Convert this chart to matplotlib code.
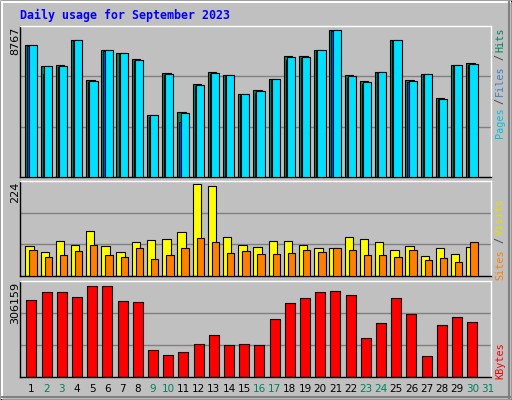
import matplotlib
matplotlib.use("Agg")
import matplotlib.pyplot as plt
from matplotlib.patches import Rectangle

days = list(range(1, 32))
hits_px = [133,196,193,118,238,148,157,175,343,217,334,250,214,223,280,268,235,166,166,148,88,223,241,214,118,238,220,292,193,187]
files_px = [138,220,200,121,244,152,160,183,349,225,364,256,220,226,283,278,240,178,172,153,92,232,250,217,121,244,225,297,196,193]
pages_px = [133,196,196,118,241,148,157,178,343,220,337,253,217,223,280,271,235,169,169,148,88,226,244,214,118,241,220,295,193,190]
hits = [(530 - y) / (530 - 88) * 8767 for y in hits_px]
files = [(530 - y) / (530 - 88) * 8767 for y in files_px]
pages = [(530 - y) / (530 - 88) * 8767 for y in pages_px]
visits_px = [214,232,199,211,169,214,232,202,196,193,172,28,34,187,211,217,199,199,211,220,220,187,193,202,226,214,244,220,238,217]
sites_px = [226,247,241,229,211,241,247,220,253,241,220,190,202,235,229,238,238,235,226,232,220,226,241,241,247,226,256,250,262,202]
visits = [(304 - y) / 276 * 224 for y in visits_px]
sites = [(304 - y) / 276 * 224 for y in sites_px]
kb_px = [370,346,346,361,328,328,373,376,520,535,526,502,475,505,502,505,427,379,364,346,343,355,484,439,364,412,538,445,421,436]
kbytes = [(601 - y) / 273 * 306159 for y in kb_px]
weekend = {2,3,9,10,16,17,23,24,30,31}

W, H = 512, 400
fig = plt.figure(figsize=(W/100, H/100), dpi=100)
fig.patch.set_facecolor("#c0c0c0")
def P(x0, y0, x1, y1):
    return [x0/W, 1 - y1/H, (x1-x0)/W, (y1-y0)/H]
ov = fig.add_axes([0, 0, 1, 1]); ov.set_xlim(0, W); ov.set_ylim(H, 0); ov.axis("off")
ov.add_patch(Rectangle((0.5, 0.5), W-1, H-1, fill=False, ec="black", lw=1))
ov.plot([2, W-2], [2, 2], color="white", lw=1.5); ov.plot([2, 2], [2, H-2], color="white", lw=1.5)
ov.plot([2, W-2], [H-3, H-3], color="#808080", lw=1.5); ov.plot([W-3, W-3], [2, H-2], color="#808080", lw=1.5)

ax_l, ax_r = 20, 491
xl = 1 - 11/15.2
xr = xl + 471/15.2
s = 15.2
def style(ax, ymax):
    ax.set_facecolor("#c0c0c0")
    ax.set_xlim(xl, xr); ax.set_ylim(0, ymax)
    ax.set_xticks([]); ax.set_yticks([])
    for y in (ymax/3, 2*ymax/3):
        ax.axhline(y, color="#808080", lw=1, zorder=0)
    ax.spines["left"].set_color("black"); ax.spines["top"].set_color("white")
    ax.spines["bottom"].set_color("black"); ax.spines["right"].set_color("white")
    for sp in ax.spines.values(): sp.set_linewidth(1)

def bars(ax, vals, a, b, color, z, lw=0.8):
    ax.bar([d + (a+b)/2/s for d in days[:len(vals)]], vals, width=(b-a)/s,
           color=color, edgecolor="black", linewidth=lw, zorder=z)

a1 = fig.add_axes(P(ax_l, 25.7, ax_r, 177)); ym1 = 8767 * 151.3/147.4
style(a1, ym1)
bars(a1, hits, -5.7, 3, "#00805c", 2)
bars(a1, files, -3.7, 4.5, "#0040ff", 3, 0.6)
bars(a1, pages, -2.5, 5.7, "#00e0ff", 4)

a2 = fig.add_axes(P(ax_l, 180.7, ax_r, 276.3)); ym2 = 224 * 287/276
style(a2, ym2)
bars(a2, visits, -5.7, 2.7, "#ffff00", 2)
bars(a2, sites, -1.7, 5.7, "#ff8000", 3)

a3 = fig.add_axes(P(ax_l, 280.5, ax_r, 376.5)); ym3 = 306159 * 288/273
style(a3, ym3)
bars(a3, kbytes, -4.7, 5.3, "#ff0000", 2)

mono = "DejaVu Sans Mono"
fig.text(20/W, 1 - 15/H, "Daily usage for September 2023", color="#0000ff",
         family=mono, weight="bold", fontsize=8.4, va="center", ha="left")
def vt(x, ytop, t, c, fs=7.3, fam="DejaVu Sans"):
    fig.text(x/W, 1 - ytop/H, t, color=c, rotation=90, ha="center", va="top", fontsize=fs, family=fam)
vt(15, 27, "8767", "black", 8)
vt(15, 182, "224", "black", 8)
vt(15, 282, "306159", "black", 8)
vt(500, 28, "Hits", "#00805c", fam=mono)
vt(500, 54, "/", "#404040", fam=mono)
vt(500, 65, "Files", "#4080c0", fam=mono)
vt(500, 98, "/", "#404040", fam=mono)
vt(500, 107, "Pages", "#00c0e0", fam=mono)
vt(500, 198, "Visits", "#e0e000", fam=mono)
vt(500, 237, "/", "#404040", fam=mono)
vt(500, 249, "Sites", "#ff8000", fam=mono)
vt(500, 342, "KBytes", "#ff0000", fam=mono)
for d in days:
    x = ax_l + (d - xl) * s + 0.5
    fig.text(x/W, 1 - 389/H, str(d), color="#00805c" if d in weekend else "black",
             ha="center", va="center", fontsize=7.5)
fig.savefig("out.png", dpi=100, facecolor=fig.get_facecolor())
